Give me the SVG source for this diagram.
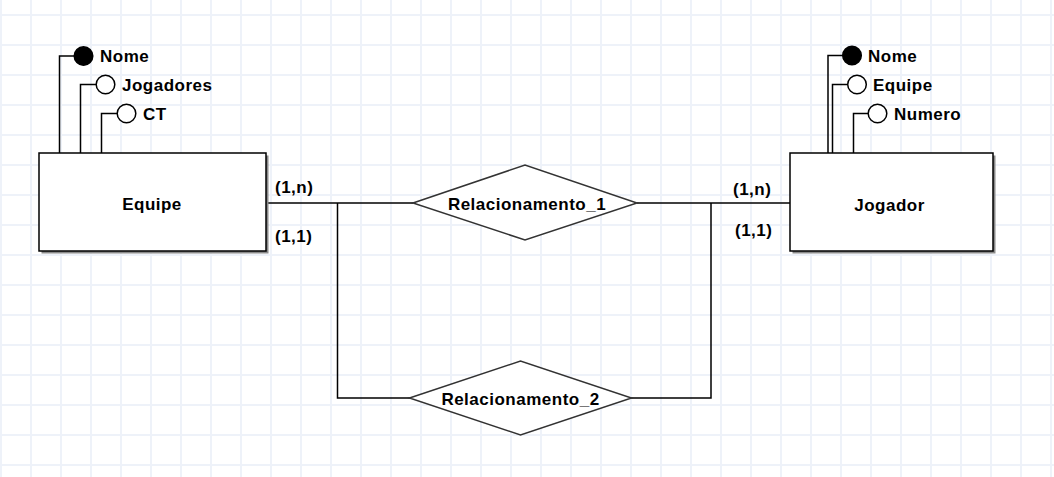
<svg xmlns="http://www.w3.org/2000/svg" width="1054" height="477" viewBox="0 0 1054 477">
<style>
.t{font-family:"Liberation Sans",Arial,sans-serif;font-weight:bold;font-size:17px;letter-spacing:0.5px;fill:#000}
.c{text-anchor:middle}
.ln{fill:none;stroke:#000;stroke-width:1.5}
.ent{fill:#fff;stroke:#000;stroke-width:1.5}
.sh{fill:#8a8a8a}
.rel{fill:#fff;stroke:#333;stroke-width:1.5}
.ao{fill:#fff;stroke:#000;stroke-width:1.5}
.ak{fill:#000;stroke:#000;stroke-width:1.5}
</style>
<rect width="1054" height="477" fill="#fff"/>
<g id="grid-bg" stroke="#eef2f9" stroke-width="2">
<path d="M1,0V477M31,0V477M61,0V477M91,0V477M121,0V477M151,0V477M181,0V477M211,0V477M241,0V477M271,0V477M301,0V477M331,0V477M361,0V477M391,0V477M421,0V477M451,0V477M481,0V477M511,0V477M541,0V477M571,0V477M601,0V477M631,0V477M661,0V477M691,0V477M721,0V477M751,0V477M781,0V477M811,0V477M841,0V477M871,0V477M901,0V477M931,0V477M961,0V477M991,0V477M1021,0V477M1051,0V477"/>
<path d="M0,15H1054M0,45H1054M0,75H1054M0,105H1054M0,135H1054M0,165H1054M0,195H1054M0,225H1054M0,255H1054M0,285H1054M0,315H1054M0,345H1054M0,375H1054M0,405H1054M0,435H1054M0,465H1054"/>
</g>
<g id="connectors">
<path class="ln" d="M266,203 H413"/>
<path class="ln" d="M637,203 H790"/>
<path class="ln" d="M337.5,203 V398 H410"/>
<path class="ln" d="M631,398 H711 V203"/>
<path class="ln" d="M59.5,153 V56 H74"/>
<path class="ln" d="M80.5,153 V84.5 H96"/>
<path class="ln" d="M101.5,153 V113.5 H117"/>
<path class="ln" d="M828,153 V55.5 H842"/>
<path class="ln" d="M832.5,153 V84.5 H847"/>
<path class="ln" d="M853.5,153 V113.5 H868"/>
</g>
<g id="Equipe">
<rect class="sh" x="41.5" y="155.5" width="227" height="98"/>
<rect class="ent" x="39" y="153" width="227" height="98"/>
<text class="t c" x="152" y="210">Equipe</text>
</g>
<g id="Equipe-Nome">
<circle class="ak" cx="83.5" cy="56" r="9.3"/>
<text class="t" x="100" y="62">Nome</text>
</g>
<g id="Equipe-Jogadores">
<circle class="ao" cx="105.5" cy="84.5" r="9.3"/>
<text class="t" x="122" y="90.5">Jogadores</text>
</g>
<g id="Equipe-CT">
<circle class="ao" cx="126.5" cy="113.5" r="9.3"/>
<text class="t" x="143" y="119.5">CT</text>
</g>
<g id="Jogador">
<rect class="sh" x="792.5" y="155.5" width="203" height="98"/>
<rect class="ent" x="790" y="153" width="203" height="98"/>
<text class="t c" x="889.5" y="211">Jogador</text>
</g>
<g id="Jogador-Nome">
<circle class="ak" cx="852" cy="55.5" r="9.3"/>
<text class="t" x="868" y="61.5">Nome</text>
</g>
<g id="Jogador-Equipe">
<circle class="ao" cx="857" cy="84.5" r="9.3"/>
<text class="t" x="873" y="90.5">Equipe</text>
</g>
<g id="Jogador-Numero">
<circle class="ao" cx="877.5" cy="113.5" r="9.3"/>
<text class="t" x="894" y="119.5">Numero</text>
</g>
<g id="Relacionamento_1">
<polygon class="rel" points="413,203 525,165 637,203 525,240"/>
<text class="t c" x="527" y="209.5">Relacionamento_1</text>
</g>
<g id="Relacionamento_2">
<polygon class="rel" points="409.5,398 520.5,361 631.5,398 520.5,435"/>
<text class="t c" x="520.5" y="404.5">Relacionamento_2</text>
</g>
<g id="cardinalities">
<text class="t" x="275" y="193">(1,n)</text>
<text class="t" x="275" y="242">(1,1)</text>
<text class="t" x="733" y="195">(1,n)</text>
<text class="t" x="735" y="236">(1,1)</text>
</g>
</svg>
